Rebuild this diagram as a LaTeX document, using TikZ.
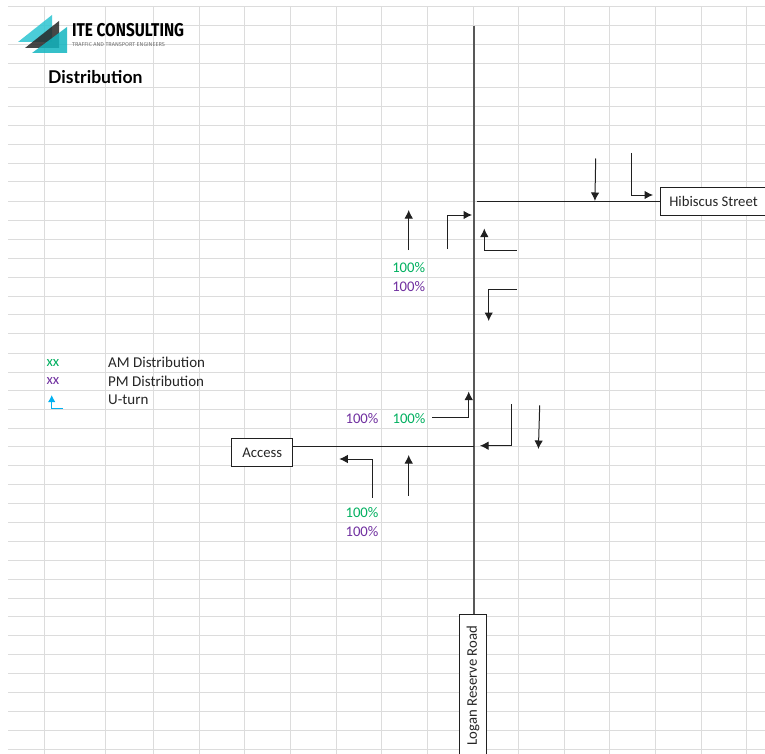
\documentclass[tikz,border=0pt]{standalone}
\usepackage{fontspec}
\setmainfont{Carlito}
\newfontfamily\logofont{Fira Sans}
\newfontfamily\headfont{Lato}
\usetikzlibrary{arrows.meta}
\definecolor{gridc}{HTML}{DCDCDC}
\definecolor{amc}{HTML}{00B060}
\definecolor{pmc}{HTML}{7030A0}
\definecolor{uc}{HTML}{00B0F0}
\definecolor{linec}{HTML}{202020}
\definecolor{teal1}{HTML}{2CC5D2}
\definecolor{teal2}{HTML}{12B5C0}
\tikzset{
  gridline/.style={draw=gridc,line width=1pt},
  road/.style={draw=linec,line width=1pt},
  mainroad/.style={draw=linec!75!white,line width=1.15pt},
  flow/.style={draw=linec,line width=1pt,-{Latex[length=8.5pt,width=8.5pt]}},
  ubox/.style={draw=linec,line width=1pt,fill=white,inner sep=0pt,font=\fontsize{14.7}{15}\selectfont,text=black!85},
  txt/.style={inner sep=0pt,font=\fontsize{15}{15}\selectfont,text=black!85},
  am/.style={inner sep=0pt,font=\fontsize{14.7}{15}\selectfont,text=amc},
  pm/.style={inner sep=0pt,font=\fontsize{14.7}{15}\selectfont,text=pmc},
}
\begin{document}
\begin{tikzpicture}[x=1pt,y=-1pt]
\useasboundingbox (0,0) rectangle (765,754);
\clip (0,0) rectangle (765,754);
\fill[white] (0,0) rectangle (765,754);
% sheet grid
\foreach \yy in {7,26,45,64,88,107,126,145,163.5,182,201,220,239,258,277,296,314.5,333.5,353,372,390.5,409,428,446.5,465.5,484.5,503,522,541,560,579,598,616.5,635.5,654,673,692,711,730,749}
  \draw[gridline] (8,\yy) -- (765,\yy);
\foreach \xx in {44,105,153,199,244,290,336,381,427.5,473,518,564,609,655,701,746}
  \draw[gridline] (\xx,7) -- (\xx,754);
% logo
\fill[teal1,opacity=.85] (52,15) -- (18,42) -- (52,42) -- cycle;
\fill[black!85,opacity=.85] (59,21) -- (25,48) -- (59,48) -- cycle;
\fill[teal2,opacity=.85] (67,27) -- (32,53) -- (67,53) -- cycle;
\node[anchor=west,inner sep=0pt] (logo) at (72,30.5) {\scalebox{.83}[1]{\logofont\bfseries\fontsize{18.5}{19}\selectfont ITE CONSULTING}};
\node[anchor=west,inner sep=0pt,text=black!55] (logosub) at (72,44.5) {\logofont\fontsize{5.6}{6}\selectfont TRAFFIC AND TRANSPORT ENGINEERS};
\node[anchor=west,inner sep=0pt] (title) at (48,77.5) {\headfont\bfseries\fontsize{17.6}{18}\selectfont Distribution};
% boxes
\node[ubox,minimum width=107pt,minimum height=27pt] (hib) at (713.5,201.5) {Hibiscus Street};
\node[ubox,minimum width=60.5pt,minimum height=28pt] (access) at (262.2,452.7) {Access};
\node[ubox,rotate=90,minimum width=143pt,minimum height=27.5pt] (logan) at (473,685.5) {Logan Reserve Road};
% roads
\coordinate (roadtop) at (474,26);
\coordinate (hibend) at (476.5,201.5);
\coordinate (accend) at (474,446.7);
\draw[mainroad] (roadtop) -- (logan.east -| roadtop);
\draw[road] (hibend) -- (hib.west);
\draw[road] (accend) -- (accend -| access.east);
% flow arrows
\draw[flow] (595.7,158.5) -- (594.9,201);
\draw[flow] (631.7,153) |- (653,195);
\draw[flow] (408.7,250) -- (408.7,210);
\draw[flow] (447.7,249) |- (472,215);
\draw[flow] (516.7,250) -| (484.3,228.5);
\draw[flow] (517,289) -| (488.7,321);
\draw[flow] (432,417.7) -| (468.7,391.5);
\draw[flow] (511,404) |- (480,445.7);
\draw[flow] (539.7,405.4) -- (538.4,449);
\draw[flow] (372.3,497.7) |- (339.3,459);
\draw[flow] (408.7,495.7) -- (408.7,455);
% percentages
\node[am] (p1) at (408.7,267.5) {100\%};
\node[pm] (p2) at (408.7,286.5) {100\%};
\node[pm] (p3) at (362,418.5) {100\%};
\node[am] (p4) at (409,418.5) {100\%};
\node[am] (p5) at (362,512.5) {100\%};
\node[pm] (p6) at (362,531.5) {100\%};
% legend
\node[am] (l1) at (53,362.5) {xx};
\node[pm] (l2) at (53,381) {xx};
\node[txt,anchor=west] (t1) at (108,362) {AM Distribution};
\node[txt,anchor=west] (t2) at (108,381) {PM Distribution};
\node[txt,anchor=west] (t3) at (108,399.5) {U-turn};
\draw[uc,line width=1.2pt,-{Latex[length=7pt,width=7.5pt]}] (63,408.5) -| (51.7,395);
\end{tikzpicture}
\end{document}
